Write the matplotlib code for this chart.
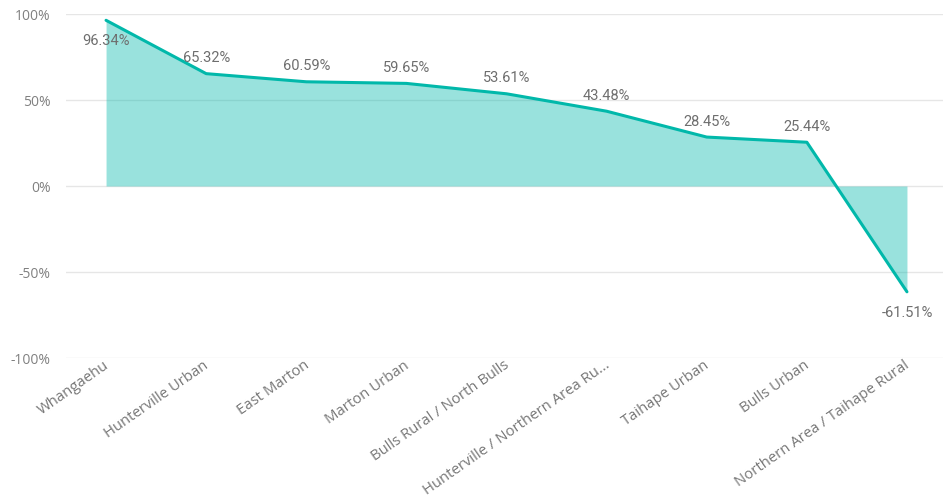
import matplotlib
matplotlib.use("Agg")
import matplotlib.pyplot as plt
import matplotlib.transforms as mtransforms
import numpy as np

categories = ["Whangaehu", "Hunterville Urban", "East Marton", "Marton Urban",
              "Bulls Rural / North Bulls", "Hunterville / Northern Area Ru...",
              "Taihape Urban", "Bulls Urban", "Northern Area / Taihape Rural"]
values = [96.34, 65.32, 60.59, 59.65, 53.61, 43.48, 28.45, 25.44, -61.51]
yticks = [-100, -50, 0, 50, 100]
ytick_labels = ["-100%", "-50%", "0%", "50%", "100%"]

fig = plt.figure(figsize=(9.43, 5.0), dpi=100)
ax = fig.add_axes([0.07, 0.284, 0.93, 0.688])

x = np.arange(len(categories))
v = np.array(values)
ax.fill_between(x, v, 0, color="#01B8AA", alpha=0.4, linewidth=0, zorder=2)
ax.plot(x, v, color="#01B8AA", linewidth=2.2, zorder=3, solid_capstyle="round")

for i, val in enumerate(values):
    label = f"{val:.2f}%"
    if i == 0 or val < 0:
        ax.annotate(label, (i, val), xytext=(0, -10), textcoords="offset points",
                    ha="center", va="top", fontsize=10.5, color="#6E6E6E",
                    fontfamily="Roboto", zorder=4)
    else:
        ax.annotate(label, (i, val), xytext=(0, 6), textcoords="offset points",
                    ha="center", va="bottom", fontsize=10.5, color="#6E6E6E",
                    fontfamily="Roboto", zorder=4)

ax.set_xlim(-0.4, 8.36)
ax.set_ylim(-100, 100)
ax.set_yticks(yticks)
ax.set_yticklabels(ytick_labels, fontsize=10, color="#808080", fontfamily="Open Sans")
ax.set_xticks(x)
ax.set_xticklabels(categories, rotation=35, ha="right", rotation_mode="anchor",
                   fontsize=10.7, color="#777777", fontfamily="Open Sans")
ax.tick_params(axis="y", length=0, pad=11)
ax.tick_params(axis="x", length=0, pad=0)
shift = mtransforms.ScaledTranslation(-3 / 100, 0, fig.dpi_scale_trans)
for lab in ax.get_xticklabels():
    lab.set_transform(lab.get_transform() + shift)
ax.grid(axis="y", color="#E6E6E6", linewidth=1, zorder=0)
for s in ax.spines.values():
    s.set_visible(False)

fig.savefig("out.png", dpi=100)
